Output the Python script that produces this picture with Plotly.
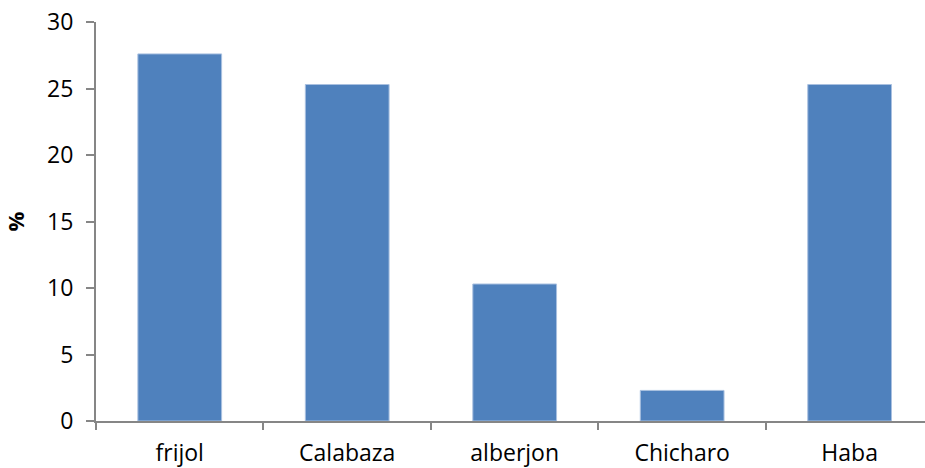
import plotly.graph_objects as go

categories = ["frijol", "Calabaza", "alberjon", "Chicharo", "Haba"]
values = [27.6, 25.3, 10.3, 2.3, 25.3]
y_ticks = [0, 5, 10, 15, 20, 25, 30]

fig = go.Figure(go.Bar(
    x=categories, y=values,
    marker=dict(color="#4F81BD", line=dict(color="#A9C0E0", width=1)),
    width=0.5,
))

fig.update_layout(
    width=925, height=468,
    margin=dict(l=96, r=0, t=22, b=47),
    paper_bgcolor="white", plot_bgcolor="white",
    font=dict(family="Open Sans", size=23, color="black"),
    showlegend=False,
)
fig.update_xaxes(
    type="category", range=[-0.5, 4.45], automargin=False,
    showline=True, linecolor="#868686", linewidth=2,
    ticks="outside", tickson="boundaries", ticklen=7, tickcolor="#868686", tickwidth=2,
    ticklabelstandoff=10,
    showgrid=False, zeroline=False,
)
fig.update_yaxes(
    range=[0, 30], tickvals=y_ticks, automargin=False,
    showline=True, linecolor="#868686", linewidth=2,
    ticks="outside", ticklen=8, tickcolor="#868686", tickwidth=2,
    ticklabelstandoff=8,
    showgrid=False, zeroline=False,
    title=dict(text="<b>%</b>", font=dict(size=22), standoff=22),
)
fig.write_html(
    "out.html",
    config={"displayModeBar": False},
    post_script="document.body.style.margin='0';document.body.style.overflow='hidden';",
)
